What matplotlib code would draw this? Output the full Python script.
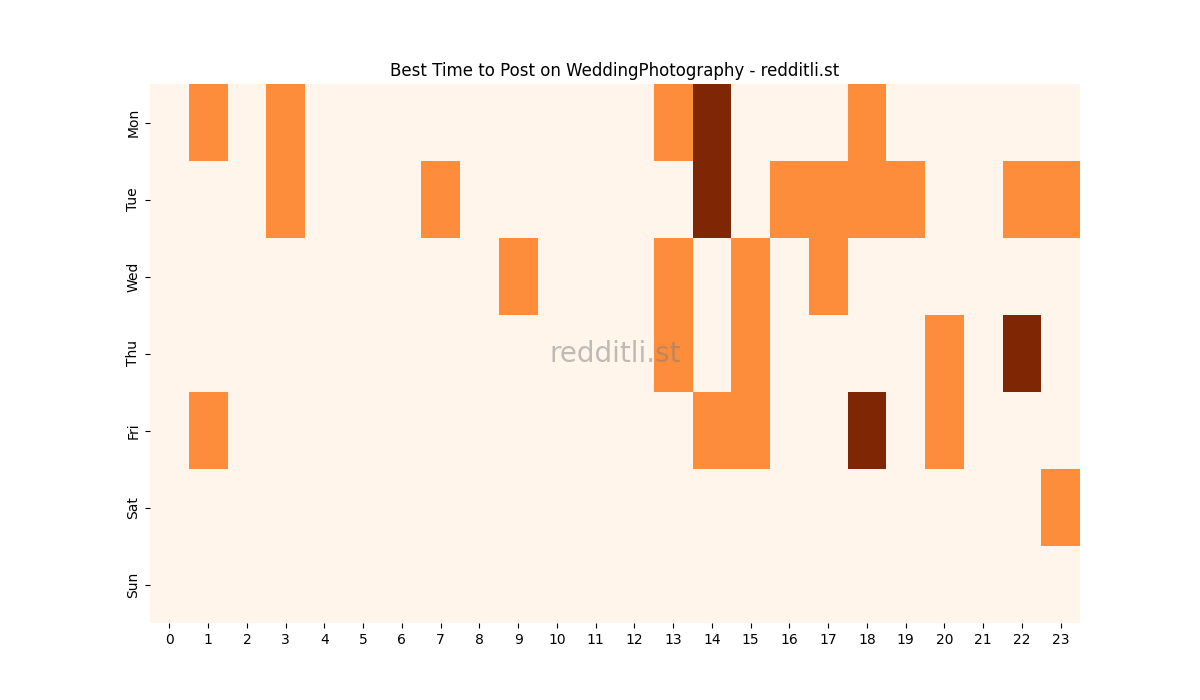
import numpy as np
import matplotlib
matplotlib.use("Agg")
import matplotlib.pyplot as plt
import seaborn as sns

days = ["Mon", "Tue", "Wed", "Thu", "Fri", "Sat", "Sun"]
hours = list(range(24))

# (day, hour, value) for non-zero cells
mon = {1: 1, 3: 1, 13: 1, 14: 2, 18: 1}
tue = {3: 1, 7: 1, 14: 2, 16: 1, 17: 1, 18: 1, 19: 1, 22: 1, 23: 1}
wed = {9: 1, 13: 1, 15: 1, 17: 1}
thu = {13: 1, 15: 1, 20: 1, 22: 2}
fri = {1: 1, 14: 1, 15: 1, 18: 2, 20: 1}
sat = {23: 1}
sun = {}

rows = [mon, tue, wed, thu, fri, sat, sun]
data = np.array([[r.get(h, 0) for h in hours] for r in rows])

fig, ax = plt.subplots(figsize=(12, 7), dpi=100)
sns.heatmap(data, cmap="Oranges", cbar=False, ax=ax,
            xticklabels=hours, yticklabels=days, vmin=0, vmax=2)
ax.set_yticklabels(days, rotation=90, va="center")
ax.set_xticklabels(hours, rotation=0)
ax.set_title("Best Time to Post on WeddingPhotography - redditli.st")
ax.text(0.5, 0.5, "redditli.st", transform=ax.transAxes, fontsize=20,
        color="grey", alpha=0.5, ha="center", va="center")

fig.savefig("out.png")
